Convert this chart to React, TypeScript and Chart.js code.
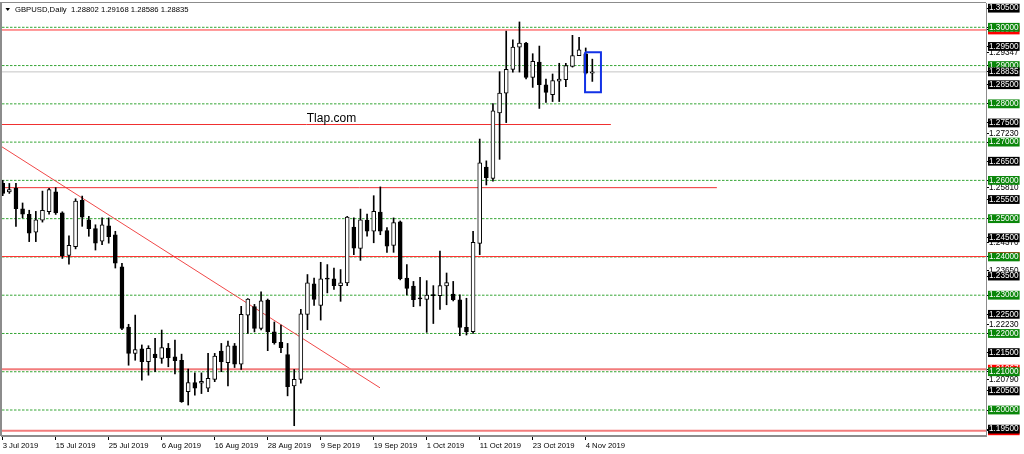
import React, { useEffect, useRef } from 'react';
import { Chart, registerables } from 'chart.js';

Chart.register(...registerables);

// ---- daily candles, GBPUSD, bar 0 = 3 Jul 2019 ----
const opens = [
  1.2592, 1.2570, 1.2579, 1.2526, 1.2511, 1.2465, 1.2496, 1.2518, 1.2570, 1.2515,
  1.2404, 1.2427, 1.2548, 1.2497, 1.2474, 1.2441, 1.2481, 1.2458, 1.2374, 1.2217,
  1.2148, 1.2160, 1.2126, 1.2146, 1.2135, 1.2161, 1.2139, 1.2130, 1.2048, 1.2072,
  1.2070, 1.2057, 1.2080, 1.2154, 1.2124, 1.2168, 1.2120, 1.2248, 1.2270, 1.2213,
  1.2287, 1.2204, 1.2177, 1.2145, 1.2063, 1.2080, 1.2250, 1.2330, 1.2273, 1.2345,
  1.2343, 1.2325, 1.2332, 1.2478, 1.2422, 1.2496, 1.2467, 1.2517, 1.2469, 1.2430,
  1.2492, 1.2345, 1.2324, 1.2293, 1.2289, 1.2301, 1.2299, 1.2324, 1.2303, 1.2288,
  1.2216, 1.2205, 1.2435, 1.2635, 1.2605, 1.2776, 1.2828, 1.2890, 1.2948, 1.2959,
  1.2869, 1.2909, 1.2850, 1.2824, 1.2859, 1.2863, 1.2898, 1.2926, 1.2931, 1.28802,
];
const highs = [
  1.2600, 1.2592, 1.2592, 1.2541, 1.2522, 1.2519, 1.2572, 1.2579, 1.2581, 1.2518,
  1.2455, 1.2552, 1.2559, 1.2506, 1.2484, 1.2502, 1.2502, 1.2467, 1.2383, 1.2224,
  1.2248, 1.2170, 1.2168, 1.2187, 1.2209, 1.2174, 1.2183, 1.2146, 1.2107, 1.2097,
  1.2097, 1.2148, 1.2148, 1.2174, 1.2180, 1.2174, 1.2271, 1.2291, 1.2276, 1.2309,
  1.2290, 1.2230, 1.2222, 1.2174, 1.2106, 1.2263, 1.2354, 1.2345, 1.2386, 1.2380,
  1.2371, 1.2367, 1.2506, 1.2502, 1.2525, 1.2512, 1.2560, 1.2583, 1.2477, 1.2502,
  1.2494, 1.2380, 1.2336, 1.2347, 1.2338, 1.2325, 1.2415, 1.2358, 1.2336, 1.2301,
  1.2292, 1.2467, 1.2708, 1.2651, 1.2801, 1.2884, 1.2990, 1.2967, 1.3014, 1.2961,
  1.2931, 1.2951, 1.2865, 1.2878, 1.2906, 1.2906, 1.2979, 1.2974, 1.2946, 1.29168,
];
const lows = [
  1.2560, 1.2566, 1.2480, 1.2502, 1.2440, 1.2440, 1.2491, 1.2512, 1.2511, 1.2396,
  1.2381, 1.2421, 1.2480, 1.2454, 1.2418, 1.2432, 1.2436, 1.2371, 1.2210, 1.2117,
  1.2130, 1.2078, 1.2091, 1.2100, 1.2122, 1.2113, 1.2094, 1.2020, 1.2013, 1.2039,
  1.2043, 1.2048, 1.2074, 1.2100, 1.2063, 1.2111, 1.2106, 1.2200, 1.2204, 1.2209,
  1.2155, 1.2172, 1.2150, 1.2037, 1.1959, 1.2070, 1.2210, 1.2273, 1.2235, 1.2306,
  1.2315, 1.2284, 1.2325, 1.2406, 1.2391, 1.2454, 1.2437, 1.2458, 1.2412, 1.2412,
  1.2340, 1.2301, 1.2270, 1.2272, 1.2203, 1.2226, 1.2263, 1.2275, 1.2285, 1.2194,
  1.2196, 1.2200, 1.2406, 1.2588, 1.2598, 1.2655, 1.2751, 1.2883, 1.2883, 1.2865,
  1.2843, 1.2788, 1.2804, 1.2806, 1.2806, 1.2845, 1.2896, 1.2926, 1.2878, 1.28586,
];
const closes = [
  1.2566, 1.2576, 1.2526, 1.2512, 1.2462, 1.2497, 1.2522, 1.2576, 1.2515, 1.2403,
  1.2430, 1.2546, 1.2504, 1.2474, 1.2436, 1.2484, 1.2453, 1.2384, 1.2213, 1.2148,
  1.2158, 1.2126, 1.2161, 1.2137, 1.2163, 1.2137, 1.2129, 1.2022, 1.2072, 1.2057,
  1.2075, 1.2083, 1.2141, 1.2126, 1.2168, 1.2120, 1.2250, 1.2290, 1.2213, 1.2285,
  1.2204, 1.2176, 1.2163, 1.2061, 1.2080, 1.2251, 1.2332, 1.2289, 1.2343, 1.2342,
  1.2325, 1.2332, 1.2504, 1.2423, 1.2497, 1.2467, 1.2519, 1.2467, 1.2428, 1.2490,
  1.2343, 1.2318, 1.2288, 1.2290, 1.2300, 1.2299, 1.2325, 1.2333, 1.2288, 1.2216,
  1.2205, 1.2438, 1.2646, 1.2607, 1.2782, 1.2828, 1.2890, 1.2948, 1.2959, 1.2869,
  1.2911, 1.2850, 1.2830, 1.2861, 1.2865, 1.2900, 1.2926, 1.2941, 1.2880, 1.28835,
];

// ---- time axis ----
const dateTickBars = [0, 8, 16, 24, 32, 40, 48, 56, 64, 72, 80, 88];
const dateTickLabels = [
  '3 Jul 2019', '15 Jul 2019', '25 Jul 2019', '6 Aug 2019', '16 Aug 2019', '28 Aug 2019',
  '9 Sep 2019', '19 Sep 2019', '1 Oct 2019', '11 Oct 2019', '23 Oct 2019', '4 Nov 2019',
];

// ---- price axis ----
const priceGridTicks = [
  1.195, 1.200, 1.205, 1.210, 1.215, 1.220, 1.225, 1.230, 1.235, 1.240, 1.245, 1.250,
  1.255, 1.260, 1.265, 1.270, 1.275, 1.280, 1.285, 1.290, 1.295, 1.300, 1.305,
];
const axisTextMarks = [1.29347, 1.2723, 1.2581, 1.2437, 1.2365, 1.2223, 1.2079];
const axisRedMarks = [1.2993, 1.2401, 1.21067, 1.19457];
const bidPrice = 1.28835;

// ---- drawn objects ----
const greenLevels = [1.20, 1.21, 1.22, 1.23, 1.24, 1.25, 1.26, 1.27, 1.28, 1.29, 1.30];
const redLevels = [1.2993, 1.2401];
const softRedLevels = [1.21067, 1.19457];
const segmentPrices = [1.2746, 1.2581];
const segmentEnds = [91.8, 107.8];
const trendBars = [-0.41, 56.95];
const trendPrices = [1.26909, 1.2058];
const boxBars = [87.9, 90.3];
const boxPrices = [1.29347, 1.28302];
const watermark = { text: 'Tlap.com', bar: 45.9, price: 1.2753 };
const headerText = 'GBPUSD,Daily  1.28802 1.29168 1.28586 1.28835';

const X_MIN = -0.106;
const X_MAX = 148.42;
const Y_MIN = 1.19321;
const Y_MAX = 1.30635;

const FONT = '"Liberation Sans", Arial, sans-serif';

function lineSet(points: { x: number; y: number }[], color: string, width: number, dash: number[], order: number) {
  return {
    type: 'line' as const,
    data: points,
    borderColor: color,
    borderWidth: width,
    borderDash: dash,
    pointRadius: 0,
    pointHoverRadius: 0,
    fill: false,
    tension: 0,
    order,
    clip: 0,
    borderJoinStyle: 'miter' as const,
  };
}

const overlayPlugin = {
  id: 'overlay',
  afterDraw(chart: any) {
    const { ctx, chartArea: a, scales } = chart;
    const x = scales.x;
    const y = scales.y;
    ctx.save();
    // frame (top and left)
    ctx.strokeStyle = '#8c8c8c';
    ctx.lineWidth = 1;
    ctx.beginPath();
    ctx.moveTo(a.left, a.top - 0.5);
    ctx.lineTo(a.right, a.top - 0.5);
    ctx.stroke();
    ctx.lineWidth = 2;
    ctx.beginPath();
    ctx.moveTo(a.left - 1, a.top - 1);
    ctx.lineTo(a.left - 1, a.bottom);
    ctx.stroke();
    // watermark text
    ctx.fillStyle = '#000';
    ctx.font = `12px ${FONT}`;
    ctx.textBaseline = 'alphabetic';
    ctx.textAlign = 'left';
    ctx.fillText(watermark.text, x.getPixelForValue(watermark.bar), y.getPixelForValue(watermark.price));
    // header
    ctx.beginPath();
    ctx.moveTo(5.5, 8);
    ctx.lineTo(10, 8);
    ctx.lineTo(7.75, 11);
    ctx.closePath();
    ctx.fill();
    ctx.font = `7.7px ${FONT}`;
    ctx.textBaseline = 'middle';
    ctx.fillText(headerText, 15, 9.5);
    ctx.restore();
  },
};

export default function App() {
  const ref = useRef<HTMLCanvasElement>(null);

  useEffect(() => {
    document.body.style.margin = '0';
    if (!ref.current) return;

    const bodies = {
      type: 'bar' as const,
      data: opens.map((o, i) => ({ x: i, y: [o, closes[i]] })),
      backgroundColor: opens.map((o, i) => (closes[i] >= o ? '#ffffff' : '#000000')),
      borderColor: '#000000',
      borderWidth: 1,
      borderSkipped: false,
      barThickness: 4,
      minBarLength: 1,
      grouped: false,
      order: 1,
    };
    const wicks = {
      type: 'bar' as const,
      data: lows.map((l, i) => ({ x: i, y: [l, highs[i]] })),
      backgroundColor: '#000000',
      borderWidth: 0,
      barThickness: 1,
      grouped: false,
      order: 2,
    };

    const lines: any[] = [];
    greenLevels.forEach((p) =>
      lines.push(lineSet([{ x: X_MIN, y: p }, { x: X_MAX, y: p }], '#35a535', 1, [2.5, 1.5], 4)));
    lines.push(lineSet([{ x: X_MIN, y: bidPrice }, { x: X_MAX, y: bidPrice }], '#c4c4c4', 1, [], 5));
    redLevels.forEach((p) =>
      lines.push(lineSet([{ x: X_MIN, y: p }, { x: X_MAX, y: p }], '#ff3030', 1, [], 3)));
    softRedLevels.forEach((p) =>
      lines.push(lineSet([{ x: X_MIN, y: p }, { x: X_MAX, y: p }], '#f27c7c', 2, [], 3)));
    segmentPrices.forEach((p, i) =>
      lines.push(lineSet([{ x: X_MIN, y: p }, { x: segmentEnds[i], y: p }], '#f03030', 1, [], 3)));
    lines.push(lineSet(
      [{ x: trendBars[0], y: trendPrices[0] }, { x: trendBars[1], y: trendPrices[1] }],
      '#f04848', 1, [], 3));
    lines.push(lineSet(
      [
        { x: boxBars[0], y: boxPrices[0] },
        { x: boxBars[1], y: boxPrices[0] },
        { x: boxBars[1], y: boxPrices[1] },
        { x: boxBars[0], y: boxPrices[1] },
        { x: boxBars[0], y: boxPrices[0] },
      ],
      '#1232e6', 2, [], 0));

    const yTicks: { value: number; kind: string }[] = [
      ...axisTextMarks.map((v) => ({ value: v, kind: 'text' })),
      ...axisRedMarks.map((v) => ({ value: v, kind: 'red' })),
      ...priceGridTicks
        .filter((v) => !greenLevels.some((g) => Math.abs(g - v) < 1e-6))
        .map((v) => ({ value: v, kind: 'black' })),
      ...priceGridTicks
        .filter((v) => greenLevels.some((g) => Math.abs(g - v) < 1e-6))
        .map((v) => ({ value: v, kind: 'green' })),
      { value: bidPrice, kind: 'black' },
    ];

    const boxColor: Record<string, string> = {
      text: 'rgba(0,0,0,0)',
      red: '#ff0000',
      black: '#000000',
      green: '#0a870a',
    };

    const chart = new Chart(ref.current, {
      type: 'bar',
      data: { datasets: [bodies, wicks, ...lines] as any },
      plugins: [overlayPlugin],
      options: {
        responsive: false,
        animation: false,
        devicePixelRatio: 1,
        events: [],
        layout: { padding: { left: 2, top: 3, right: 0, bottom: 0 }, autoPadding: false },
        plugins: { legend: { display: false }, tooltip: { enabled: false }, title: { display: false } },
        scales: {
          x: {
            type: 'linear',
            min: X_MIN,
            max: X_MAX,
            offset: false,
            afterBuildTicks: (scale: any) => {
              scale.ticks = dateTickBars.map((v) => ({ value: v }));
            },
            afterFit: (scale: any) => {
              scale.height = 18;
              scale.paddingLeft = 0;
              scale.paddingRight = 0;
            },
            grid: {
              display: true,
              drawOnChartArea: false,
              drawTicks: true,
              tickLength: 4,
              color: '#000000',
              offset: false,
            },
            border: { display: true, color: '#8c8c8c', width: 2 },
            ticks: {
              autoSkip: false,
              maxRotation: 0,
              minRotation: 0,
              align: 'start',
              padding: 1,
              color: '#000000',
              font: { family: FONT, size: 7.7 },
              callback: (_v: any, i: number) => dateTickLabels[i],
            },
          },
          y: {
            type: 'linear',
            position: 'right',
            min: Y_MIN,
            max: Y_MAX,
            afterBuildTicks: (scale: any) => {
              scale.ticks = yTicks.map((t) => ({ ...t }));
            },
            afterFit: (scale: any) => {
              scale.width = 38;
              scale.paddingTop = 0;
              scale.paddingBottom = 0;
            },
            grid: {
              display: true,
              drawOnChartArea: false,
              drawTicks: true,
              tickLength: 3,
              color: '#000000',
            },
            border: { display: true, color: '#8c8c8c', width: 1 },
            ticks: {
              autoSkip: false,
              padding: 0,
              font: { family: FONT, size: 8.2, lineHeight: 1 },
              showLabelBackdrop: true,
              backdropPadding: { left: 1, right: 1, top: 0.3, bottom: 0.3 },
              backdropColor: (c: any) => boxColor[(c.tick && c.tick.kind) || 'text'],
              color: (c: any) => ((c.tick && c.tick.kind) === 'text' ? '#000000' : '#ffffff'),
              callback: (v: any) => Number(v).toFixed(5),
            },
          },
        },
      } as any,
    });

    return () => chart.destroy();
  }, []);

  return (
    <canvas
      ref={ref}
      width={1024}
      height={454}
      style={{ display: 'block', width: 1024, height: 454 }}
    />
  );
}
